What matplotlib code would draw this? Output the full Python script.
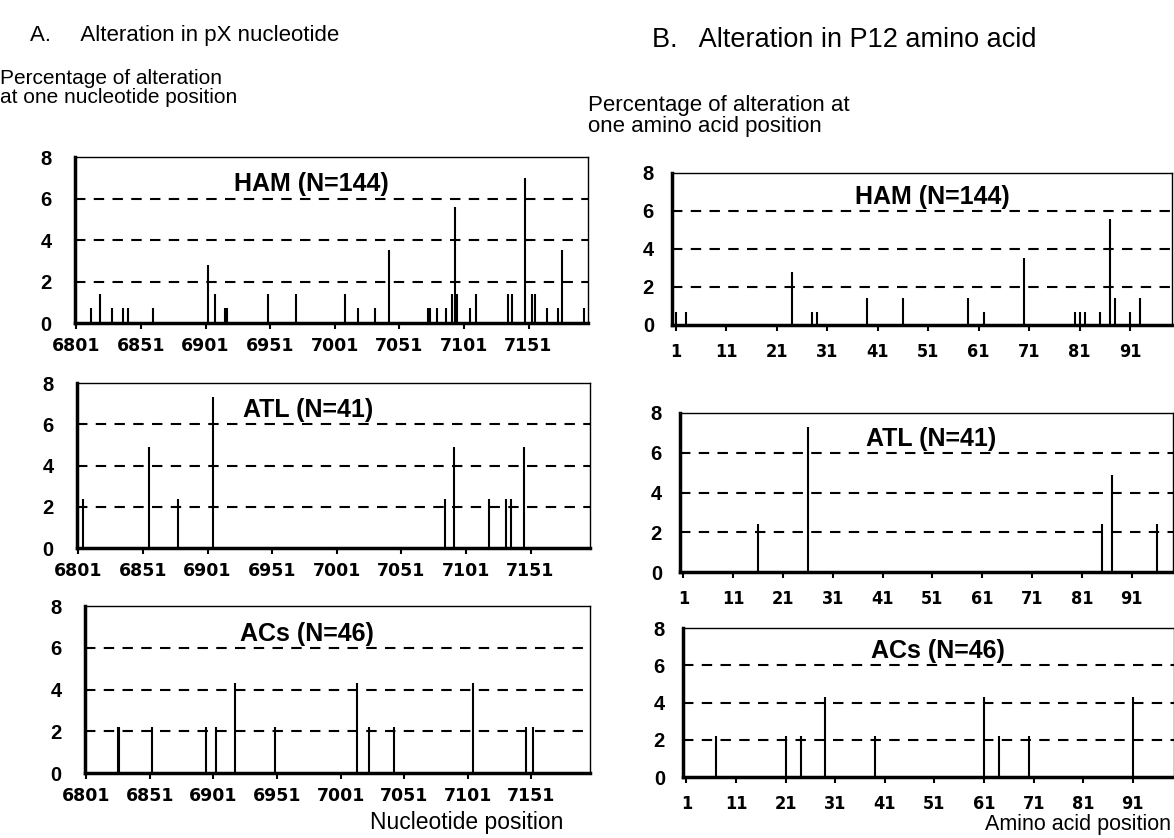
import matplotlib.pyplot as plt

W, H = 1174, 838

# A. pX nucleotide positions / percentage of alteration
nt_ticks = [6801, 6851, 6901, 6951, 7001, 7051, 7101, 7151]

ham_nt_pos = [6812, 6819, 6829, 6837, 6841, 6860, 6903, 6908, 6916, 6918, 6949, 6971,
              7009, 7019, 7032, 7043, 7073, 7075, 7080, 7087, 7092, 7094, 7096, 7106,
              7110, 7135, 7138, 7148, 7154, 7156, 7165, 7174, 7177, 7194]
ham_nt_val = [0.7, 1.4, 0.7, 0.7, 0.7, 0.7, 2.8, 1.4, 0.7, 0.7, 1.4, 1.4,
              1.4, 0.7, 0.7, 3.5, 0.7, 0.7, 0.7, 0.7, 1.4, 5.6, 1.4, 0.7,
              1.4, 1.4, 1.4, 7.0, 1.4, 1.4, 0.7, 0.7, 3.5, 0.7]

atl_nt_pos = [6805, 6856, 6878, 6905, 7085, 7092, 7119, 7132, 7136, 7146]
atl_nt_val = [2.4, 4.9, 2.4, 7.3, 2.4, 4.9, 2.4, 2.4, 2.4, 4.9]

acs_nt_pos = [6826, 6827, 6853, 6895, 6903, 6918, 6949, 7014, 7023, 7043, 7105, 7147, 7152]
acs_nt_val = [2.2, 2.2, 2.2, 2.2, 2.2, 4.3, 2.2, 4.3, 2.2, 2.2, 4.3, 2.2, 2.2]

# B. P12 amino acid positions / percentage of alteration
aa_ticks = [1, 11, 21, 31, 41, 51, 61, 71, 81, 91]

ham_aa_pos = [1, 3, 24, 28, 29, 39, 46, 59, 62, 70, 80, 81, 82, 85, 87, 88, 91, 93]
ham_aa_val = [0.7, 0.7, 2.8, 0.7, 0.7, 1.4, 1.4, 1.4, 0.7, 3.5, 0.7, 0.7, 0.7, 0.7,
              5.6, 1.4, 0.7, 1.4]

atl_aa_pos = [16, 26, 85, 87, 96]
atl_aa_val = [2.4, 7.3, 2.4, 4.9, 2.4]

acs_aa_pos = [7, 21, 24, 29, 39, 61, 64, 70, 91]
acs_aa_val = [2.2, 2.2, 2.2, 4.3, 2.2, 4.3, 2.2, 2.2, 4.3]

group_names = ['HAM (N=144)', 'ATL (N=41)', 'ACs (N=46)']


def add_panel(fig, box, pos, val, name, name_x, xlim, ticks, tick_font, ypad, xpad):
    x0, y_top, x1, y_bot = box
    ax = fig.add_axes([x0 / W, 1 - y_bot / H, (x1 - x0) / W, (y_bot - y_top) / H])
    ax.set_xlim(*xlim)
    ax.set_ylim(0, 8)
    for y in [2, 4, 6]:
        ax.axhline(y, color='k', lw=1.5, ls=(0, (5, 4)), zorder=1)
    ax.vlines(pos, 0, val, color='k', lw=1.5, zorder=2)
    ax.text(name_x, 6.1, name, transform=ax.get_yaxis_transform(), ha='center',
            va='bottom', fontsize=18, fontweight='bold', family='Liberation Sans')
    ax.spines['left'].set_linewidth(2.5)
    ax.spines['bottom'].set_linewidth(2.5)
    ax.spines['top'].set_linewidth(1.0)
    ax.spines['right'].set_linewidth(1.0)
    ax.set_yticks([0, 2, 4, 6, 8])
    ax.set_yticklabels(['0', '2', '4', '6', '8'], fontsize=14.5, fontweight='bold',
                       family='Liberation Sans')
    ax.tick_params(axis='y', length=0, pad=ypad)
    ax.set_xticks(ticks)
    ax.set_xticklabels([str(t) for t in ticks], **tick_font)
    ax.tick_params(axis='x', length=4, width=1.5, direction='out', pad=xpad)
    return ax


fig = plt.figure(figsize=(W / 100, H / 100), dpi=100)

nt_font = dict(fontsize=12.5, fontweight='bold', family='DejaVu Sans')
aa_font = dict(fontsize=13, fontweight='bold', family='DejaVu Sans', fontstretch='condensed')

left_boxes = [(75, 157, 588, 323), (77, 383, 590, 548), (85, 606, 590, 773)]
right_boxes = [(672, 173, 1172, 325), (680, 413, 1173, 572), (683, 628, 1174, 777)]
left_name_x = [0.46, 0.45, 0.44]
right_name_x = [0.52, 0.51, 0.52]

nt_data = [(ham_nt_pos, ham_nt_val), (atl_nt_pos, atl_nt_val), (acs_nt_pos, acs_nt_val)]
aa_data = [(ham_aa_pos, ham_aa_val), (atl_aa_pos, atl_aa_val), (acs_aa_pos, acs_aa_val)]

for box, (p, v), name, nx in zip(left_boxes, nt_data, group_names, left_name_x):
    add_panel(fig, box, p, v, name, nx, (6800, 7197), nt_ticks, nt_font, 17, 6)

for box, (p, v), name, nx in zip(right_boxes, aa_data, group_names, right_name_x):
    add_panel(fig, box, p, v, name, nx, (0.3, 99.3), aa_ticks, aa_font, 13, 9)

fig.text(30 / W, 1 - 35 / H, 'A.     Alteration in pX nucleotide', fontsize=16,
         family='Liberation Sans', va='center', ha='left')
fig.text(652 / W, 1 - 40 / H, 'B.   Alteration in P12 amino acid', fontsize=19.5,
         family='Liberation Sans', va='center', ha='left')
fig.text(0, 1 - 88 / H, 'Percentage of alteration\nat one nucleotide position',
         fontsize=15, family='Liberation Sans', va='center', ha='left', linespacing=1.0)
fig.text(588 / W, 1 - 116 / H, 'Percentage of alteration at\none amino acid position',
         fontsize=16, family='Liberation Sans', va='center', ha='left', linespacing=1.0)
fig.text(563 / W, 1 - 822 / H, 'Nucleotide position', fontsize=16.5,
         family='Liberation Sans', va='center', ha='right')
fig.text(1171 / W, 1 - 824 / H, 'Amino acid position', fontsize=15.5,
         family='Liberation Sans', va='center', ha='right')

fig.savefig('out.png', dpi=100)
